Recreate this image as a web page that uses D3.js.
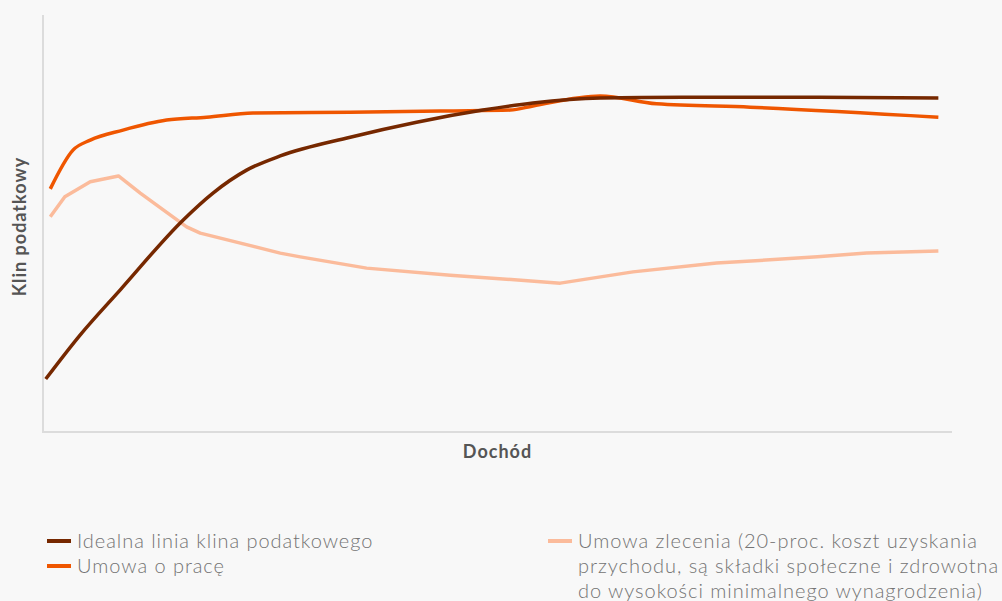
<!DOCTYPE html>
<html>
<head>
<meta charset="utf-8">
<script src="https://cdn.jsdelivr.net/npm/d3@7"></script>
<style>
  html, body { margin: 0; padding: 0; background: #f8f8f8; }
  #chart { width: 1002px; height: 601px; }
  text { font-family: Lato, "Open Sans", sans-serif; }
</style>
</head>
<body>
<div id="chart"></div>
<script>
// Dane (skala umowna 0-100 na obu osiach)
const idealX = [0.3, 4.1, 8.5, 15.4, 18.7, 22.4, 26.1, 33.8, 41.1, 48.4, 53.9, 61.3, 70.4, 85.2, 98.5];
const idealY = [12.7, 23.3, 34.1, 50.8, 57.3, 62.8, 66.2, 70.7, 74.3, 77.2, 78.9, 80.1, 80.3, 80.3, 80.1];

const pracaX = [0.8, 3.3, 5.2, 8.8, 13.6, 18.0, 23.1, 33.8, 44.8, 51.4, 53.9, 61.3, 67.5, 77.8, 98.5];
const pracaY = [58.3, 67.6, 70.0, 72.4, 74.8, 75.5, 76.5, 76.7, 77.0, 77.2, 78.2, 80.6, 78.7, 77.9, 75.5];

const zlecX = [0.8, 2.4, 5.2, 8.3, 10.7, 15.8, 17.3, 26.1, 28.3, 35.6, 44.8, 56.9, 64.9, 74.1, 85.2, 90.6, 98.5];
const zlecY = [51.6, 56.4, 60.0, 61.4, 57.3, 49.2, 47.7, 42.9, 42.0, 39.3, 37.6, 35.7, 38.4, 40.5, 42.0, 42.9, 43.4];

const seriesNames = [
  "Idealna linia klina podatkowego",
  "Umowa o pracę",
  "Umowa zlecenia (20-proc. koszt uzyskania przychodu, są składki społeczne i zdrowotna do wysokości minimalnego wynagrodzenia)"
];
const colors = ["#762800", "#ef5600", "#fbbb9b"];

const W = 1002, H = 601;
const svg = d3.select("#chart").append("svg")
  .attr("width", W)
  .attr("height", H);

svg.append("rect").attr("width", W).attr("height", H).attr("fill", "#f8f8f8");

const x = d3.scaleLinear().domain([0, 100]).range([43, 952]);
const y = d3.scaleLinear().domain([0, 100]).range([432, 15]);

// osie bez podziałek
svg.append("line")
  .attr("x1", x(0)).attr("x2", x(0))
  .attr("y1", y(100)).attr("y2", y(0))
  .attr("stroke", "#dcdcdc").attr("stroke-width", 2);
svg.append("line")
  .attr("x1", x(0) - 1).attr("x2", x(100))
  .attr("y1", y(0)).attr("y2", y(0))
  .attr("stroke", "#dcdcdc").attr("stroke-width", 2);

// etykiety osi
svg.append("text")
  .attr("x", (x(0) + x(100)) / 2)
  .attr("y", 458)
  .attr("text-anchor", "middle")
  .style("font-size", "18px")
  .style("letter-spacing", "1px")
  .style("font-weight", "bold")
  .style("fill", "#555")
  .text("Dochód");

svg.append("text")
  .attr("transform", `translate(26, ${(y(0) + y(100)) / 2 + 3}) rotate(-90)`)
  .attr("text-anchor", "middle")
  .style("font-size", "18px")
  .style("letter-spacing", "1px")
  .style("font-weight", "bold")
  .style("fill", "#555")
  .text("Klin podatkowy");

// linie
const toPts = (xs, ys) => xs.map((v, i) => ({ x: v, y: ys[i] }));
const smooth = d3.line().x(d => x(d.x)).y(d => y(d.y)).curve(d3.curveMonotoneX);
const straight = d3.line().x(d => x(d.x)).y(d => y(d.y)).curve(d3.curveLinear);

const series = [
  { pts: toPts(zlecX, zlecY), color: colors[2], gen: straight },
  { pts: toPts(pracaX, pracaY), color: colors[1], gen: smooth },
  { pts: toPts(idealX, idealY), color: colors[0], gen: smooth }
];

series.forEach(s => {
  svg.append("path")
    .datum(s.pts)
    .attr("fill", "none")
    .attr("stroke", s.color)
    .attr("stroke-width", 3.5)
    .attr("stroke-linejoin", "round")
    .attr("d", s.gen);
});

// legenda
const legendItems = [
  { x: 47, y: 541, lines: [seriesNames[0]], color: colors[0] },
  { x: 47, y: 566, lines: [seriesNames[1]], color: colors[1] },
  { x: 548, y: 541, lines: [
      "Umowa zlecenia (20-proc. koszt uzyskania",
      "przychodu, są składki społeczne i zdrowotna",
      "do wysokości minimalnego wynagrodzenia)"
    ], color: colors[2] }
];

legendItems.forEach(item => {
  const g = svg.append("g").attr("transform", `translate(${item.x}, ${item.y})`);
  g.append("line")
    .attr("x1", 0).attr("x2", 24)
    .attr("y1", 0).attr("y2", 0)
    .attr("stroke", item.color)
    .attr("stroke-width", 4);
  const t = g.append("text")
    .attr("x", 30)
    .attr("y", 7)
    .style("font-size", "20px")
    .style("letter-spacing", "0.95px")
    .style("font-weight", "300")
    .style("fill", "#737373");
  item.lines.forEach((l, i) => {
    t.append("tspan").attr("x", 30).attr("dy", i === 0 ? 0 : 25).text(l);
  });
});
</script>
</body>
</html>
